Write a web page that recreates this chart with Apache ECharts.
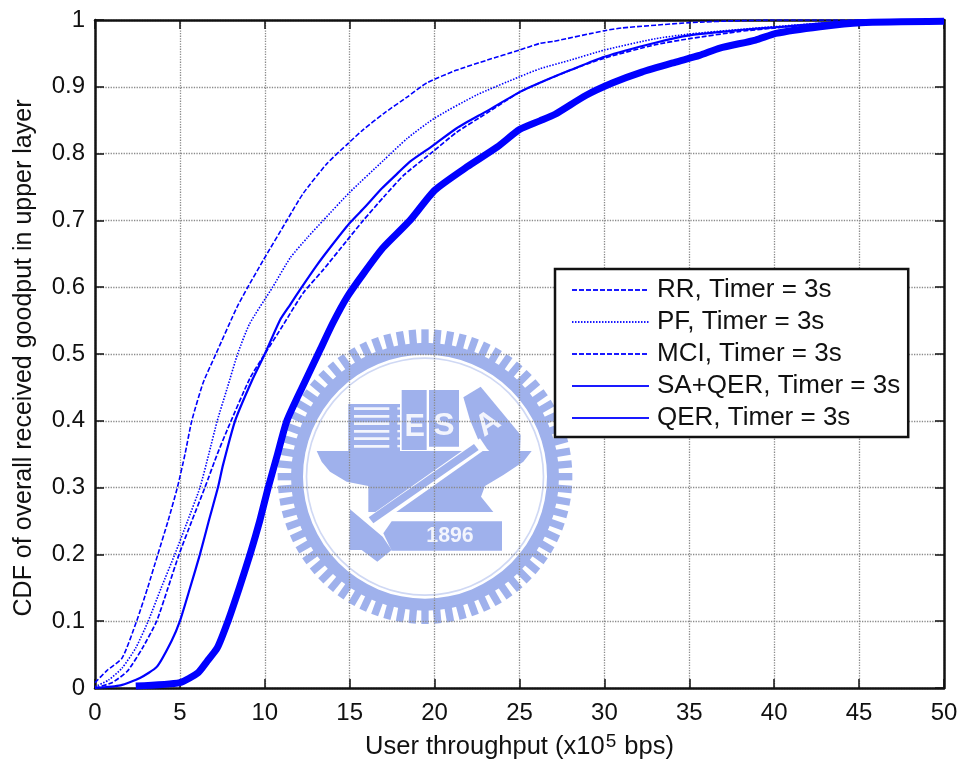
<!DOCTYPE html>
<html><head><meta charset="utf-8">
<style>html,body{margin:0;padding:0;background:#fff}#c{width:964px;height:766px}</style>
<script src="https://cdn.jsdelivr.net/npm/echarts@6/dist/echarts.min.js"></script>
</head><body><div id="c"></div>
<script>
const seriesNames = ['RR, Timer = 3s','PF, Timer = 3s','MCI, Timer = 3s','SA+QER, Timer = 3s','QER, Timer = 3s'];
const rrX  = [0,0.7,1.6,2.45,3.1,3.7,4.3,4.85,5.3,5.7,6.37,7.12,8.36,9,9.9,11.3,12.25,13.66,14.9,15.8,17,18.4,19.55,21.3,23.1,25,26.2,27,30,31,35,38,40,45,50];
const rrY  = [0.008,0.026,0.045,0.1,0.15,0.2,0.25,0.3,0.35,0.4,0.457,0.5,0.57,0.6,0.64,0.7,0.74,0.785,0.815,0.836,0.86,0.885,0.906,0.925,0.94,0.955,0.965,0.968,0.984,0.988,0.996,0.999,1,1,1];
const pfX  = [0,0.8,1.6,2.4,3.13,3.9,4.7,5.45,6.18,6.7,7.2,7.8,8.4,9.1,10.46,11.5,12.5,13.44,15,17,18.4,20,22.5,25,26.2,28,30,33,35,38,40,45,50];
const pfY  = [0.002,0.012,0.03,0.06,0.1,0.15,0.2,0.25,0.3,0.35,0.4,0.45,0.5,0.545,0.6,0.644,0.674,0.7,0.742,0.79,0.823,0.853,0.888,0.915,0.927,0.94,0.955,0.972,0.979,0.986,0.99,0.999,1];
const mciX = [0,1,1.9,2.8,3.63,4.3,4.95,5.7,6.47,7.2,7.83,9.13,10,11.07,12.25,13.44,14.84,15.8,17,18.2,19.9,21.3,23.1,25,26.2,28,30,33,35,38,40,45,50];
const mciY = [0,0.008,0.025,0.06,0.1,0.15,0.2,0.25,0.3,0.35,0.389,0.464,0.5,0.543,0.591,0.626,0.67,0.7,0.735,0.768,0.803,0.832,0.861,0.892,0.906,0.925,0.943,0.963,0.972,0.983,0.988,0.999,1];
const saX  = [0,1.5,2.65,3.65,4.5,5.0,5.6,6.18,6.7,7.24,7.54,8.25,9.24,10,10.9,11.5,12.07,13.07,13.84,15,15.9,16.9,17.8,18.55,19.9,21.3,23.1,25,26.2,28,30,33,35,38,40,45,50];
const saY  = [0,0.004,0.015,0.032,0.07,0.1,0.15,0.2,0.25,0.3,0.334,0.4,0.46,0.5,0.551,0.574,0.596,0.633,0.659,0.696,0.72,0.748,0.77,0.788,0.812,0.838,0.864,0.892,0.906,0.925,0.945,0.966,0.977,0.985,0.989,0.999,1];
const qerX = [2.4,5,6.07,6.6,7.2,7.83,8.5,9.13,9.7,10.2,10.75,11.3,12.2,13.25,14,14.84,15.8,16.96,18.55,20,21.9,23.7,25,26.2,27.1,28.9,30.5,32.2,34.2,35.6,36.8,38.9,40.1,42.7,45.1,50];
const qerY = [0.003,0.008,0.023,0.04,0.06,0.1,0.15,0.2,0.25,0.3,0.35,0.4,0.45,0.506,0.546,0.585,0.62,0.659,0.7,0.745,0.78,0.81,0.836,0.849,0.859,0.887,0.906,0.922,0.937,0.947,0.958,0.97,0.98,0.99,0.996,0.998];
const xTicks = [0,5,10,15,20,25,30,35,40,45,50];
const yTicks = [0,0.1,0.2,0.3,0.4,0.5,0.6,0.7,0.8,0.9,1];
const xTitle = '{a|User throughput (x10}{s|5}{a| bps)}';
const yTitle = 'CDF of overall received goodput in upper layer';
const logoText = ['E','S','A','1896'];

const zip = (a,b)=>a.map((v,i)=>[v,b[i]]);
const BLUE='#0000ff', FONT='"Liberation Sans", Arial, sans-serif', LOGO='#9fb1ec';

function logo(){
  const kids=[];
  const cx=405, cy=470;
  for(let i=0;i<72;i++){
    const a=i*5;
    kids.push({type:'rect',x:cx,y:cy,originX:0,originY:0,rotation:a*Math.PI/180,
      shape:{x:-11,y:-442,width:22,height:50},style:{fill:LOGO}});
  }
  kids.push({type:'ring',shape:{cx,cy,r:402,r0:366},style:{fill:LOGO}});
  kids.push({type:'ring',shape:{cx,cy,r:358,r0:353},style:{fill:'#cfd8f4'}});
  const poly=(pts,fill)=>kids.push({type:'polygon',shape:{points:pts},style:{fill:fill||LOGO}});
  const rect=(x,y,w,h,fill)=>kids.push({type:'rect',shape:{x,y,width:w,height:h},style:{fill:fill||LOGO}});
  rect(175,252,155,145);
  [262,285,307,330,352,375].forEach(y=>rect(192,y,106,8,'#f3f5fd'));
  [262,285,307,330,352,375].forEach(y=>rect(322,y,8,7,'#f3f5fd'));
  rect(335,210,75,180); rect(417,210,90,170);
  poly([[520,232],[572,200],[692,345],[690,395],[600,395],[565,360],[540,300]]);
  poly([[80,393],[725,393],[700,425],[640,465],[585,498],[573,530],[610,576],[335,576],[235,576],[235,498],[170,485],[120,455],[95,425]]);
  poly([[570,355],[590,385],[250,625],[222,600]],'#ffffff');
  poly([[552,372],[566,390],[250,610],[236,592]]);
  poly([[180,568],[278,650],[305,690],[262,725],[215,690],[178,690]]);
  poly([[305,604],[636,604],[636,692],[305,692],[280,640]]);
  kids.push({type:'text',x:374,y:322,style:{text:logoText[0],font:'bold 92px '+FONT,fill:'#f3f5fd',align:'center',verticalAlign:'middle'}});
  kids.push({type:'text',x:462,y:318,style:{text:logoText[1],font:'bold 96px '+FONT,fill:'#f3f5fd',align:'center',verticalAlign:'middle'}});
  kids.push({type:'text',x:595,y:312,rotation:0.6,originX:0,originY:0,style:{text:logoText[2],font:'bold 92px '+FONT,fill:'#f3f5fd',align:'center',verticalAlign:'middle'}});
  kids.push({type:'text',x:480,y:648,style:{text:logoText[3],font:'bold 64px '+FONT,fill:'#f3f5fd',align:'center',verticalAlign:'middle'}});
  return {type:'group',x:290,y:320,scaleX:1/3,scaleY:1/3,children:kids};
}

const chart=echarts.init(document.getElementById('c'),null,{renderer:'canvas'});
const grid={type:'dotted',color:'#8a8a8a',width:1.3};
const axisBase={axisLine:{show:true,onZero:false,lineStyle:{color:'#111',width:2.5}},
  axisTick:{show:true,inside:true,length:9,lineStyle:{color:'#111',width:1.5}}};
const line=(i,xs,ys,width,type)=>({name:seriesNames[i],type:'line',data:zip(xs,ys),
  showSymbol:false,symbol:'none',smooth:0.2,lineStyle:{color:BLUE,width,type,join:'round'},
  itemStyle:{color:BLUE},z:3+i,animation:false});
const lg=(i,type)=>({name:seriesNames[i],itemStyle:{opacity:0},lineStyle:{color:'#1a1aff',width:2,type}});

chart.setOption({
  animation:false,backgroundColor:'#fff',
  textStyle:{fontFamily:FONT},
  grid:{left:95,right:20,top:20,bottom:78,containLabel:false,outerBoundsMode:'none'},
  graphic:{z:-1,elements:[logo()]},
  xAxis:[
    Object.assign({type:'value',min:0,max:50,interval:5,position:'bottom',
      name:xTitle,nameLocation:'middle',nameGap:44,
      nameTextStyle:{color:'#111',fontFamily:FONT,rich:{
        a:{fontSize:25.5,color:'#111',fontFamily:FONT,lineHeight:30},
        s:{fontSize:19,color:'#111',fontFamily:FONT,lineHeight:19,verticalAlign:'top',padding:[0,1,16,1]}}},
      axisLabel:{fontSize:24,color:'#111',margin:13,fontFamily:FONT,showMinLabel:true,showMaxLabel:true},
      splitLine:{show:true,lineStyle:grid}},axisBase),
    Object.assign({type:'value',min:0,max:50,interval:5,position:'top',axisLabel:{show:false},splitLine:{show:false}},axisBase)
  ],
  yAxis:[
    Object.assign({type:'value',min:0,max:1,interval:0.1,position:'left',
      name:yTitle,nameLocation:'middle',nameGap:58,nameTextStyle:{fontSize:25,color:'#111',fontFamily:FONT,padding:[0,8,0,0]},
      axisLabel:{fontSize:24,color:'#111',margin:10,fontFamily:FONT,showMinLabel:true,showMaxLabel:true,
        formatter:v=>String(yTicks[Math.round(v*10)])},
      splitLine:{show:true,lineStyle:grid}},axisBase),
    Object.assign({type:'value',min:0,max:1,interval:0.1,position:'right',axisLabel:{show:false},splitLine:{show:false}},axisBase)
  ],
  legend:{show:true,orient:'vertical',left:555,top:269,
    padding:[8,8,6,16],itemGap:6,itemWidth:77,itemHeight:32,
    backgroundColor:'#fff',borderColor:'#111',borderWidth:2.5,borderRadius:0,
    textStyle:{fontSize:26,color:'#111',fontFamily:FONT,padding:[0,0,0,3]},
    selectedMode:false,z:20,
    data:[lg(0,[5,2]),lg(1,[1.5,1.5]),lg(2,[5,2]),lg(3,'solid'),lg(4,'solid')]},
  series:[
    line(0,rrX,rrY,1.6,[5,2]),
    line(1,pfX,pfY,1.6,[1.5,1.5]),
    line(2,mciX,mciY,1.7,[5,2]),
    line(3,saX,saY,2.2,'solid'),
    line(4,qerX,qerY,7,'solid')
  ]
});
</script></body></html>
